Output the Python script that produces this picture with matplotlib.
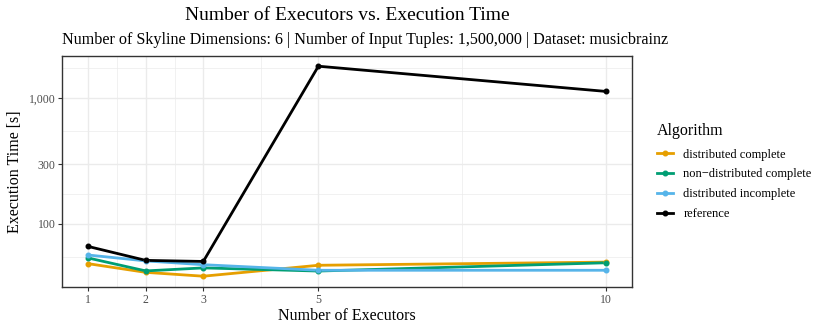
import numpy as np
import matplotlib
matplotlib.use("Agg")
import matplotlib.pyplot as plt
from matplotlib.ticker import FixedLocator, FuncFormatter, NullFormatter

plt.rcParams['font.family'] = ['Liberation Serif', 'DejaVu Serif']

executors = [1, 2, 3, 5, 10]
algorithms = ["distributed complete", "non\u2212distributed complete",
              "distributed incomplete", "reference"]
dist_complete = [48.2, 41.1, 38.3, 46.8, 49.6]
nondist_complete = [53.5, 42.2, 44.6, 42.1, 49.0]
dist_incomplete = [56.5, 50.7, 47.3, 42.7, 42.7]
reference = [66.1, 51.2, 50.2, 1805, 1136]
series = [dist_complete, nondist_complete, dist_incomplete, reference]
colors = ["#E69F00", "#009E73", "#56B4E9", "#000000"]

y_major = [100, 300, 1000]
y_minor = [54.8, 173, 548, 1733]
x_major = [1, 2, 3, 5, 10]
x_minor = [1.5, 2.5, 4, 7.5]

fig = plt.figure(figsize=(8.3, 3.32), dpi=100)
ax = fig.add_axes([62.3/830, 1-286.7/332, (632-62.3)/830, (286.7-55.7)/332])

for vals, c in zip(series, colors):
    ax.plot(executors, vals, color=c, lw=2.0, solid_capstyle='butt', zorder=3)
for vals, c in zip(series, colors):
    ax.plot(executors, vals, color=c, lw=0, marker='o', ms=3.3, zorder=4)

ax.set_yscale('log')
allv = np.concatenate([np.array(s) for s in series])
lo, hi = np.log10(allv.min()), np.log10(allv.max())
pad = 0.05*(hi-lo)
ax.set_ylim(10**(lo-pad), 10**(hi+pad))
ax.set_xlim(1-0.45, 10+0.45)

ax.yaxis.set_major_locator(FixedLocator(y_major))
ax.yaxis.set_minor_locator(FixedLocator(y_minor))
ax.yaxis.set_major_formatter(FuncFormatter(lambda v, p: f"{int(round(v)):,}"))
ax.yaxis.set_minor_formatter(NullFormatter())
ax.xaxis.set_major_locator(FixedLocator(x_major))
ax.xaxis.set_minor_locator(FixedLocator(x_minor))

ax.grid(True, which='major', color='#EBEBEB', lw=1.0, zorder=0)
ax.grid(True, which='minor', color='#EBEBEB', lw=0.5, zorder=0)
ax.set_axisbelow(True)
for s in ax.spines.values():
    s.set_color('#333333')
    s.set_linewidth(1.0)
ax.tick_params(which='major', length=3, width=0.8, color='#333333',
               labelsize=8.5, labelcolor='#4D4D4D', pad=2)
ax.tick_params(which='minor', length=0)

ax.set_xlabel("Number of Executors", fontsize=11.5, labelpad=2)
ax.set_ylabel("Execution Time [s]", fontsize=11.5, labelpad=4)

fig.text((62.3+632)/2/830, 1-16/332, "Number of Executors vs. Execution Time",
         ha='center', va='center', fontsize=14)
fig.text(62/830, 1-40/332,
         "Number of Skyline Dimensions: 6 | Number of Input Tuples: 1,500,000 | Dataset: musicbrainz",
         ha='left', va='center', fontsize=11.6)

handles = [plt.Line2D([], [], color=c, lw=2.0, marker='o', ms=3.3) for c in colors]
leg = fig.legend(handles, algorithms, title="Algorithm", loc='upper left',
                 bbox_to_anchor=(657/830, 1-123/332), frameon=False,
                 fontsize=9, title_fontsize=11.5, handlelength=1.3,
                 handletextpad=0.8, labelspacing=0.62, borderaxespad=0,
                 borderpad=0)
leg._legend_box.align = "left"
leg._legend_box.sep = 7

fig.savefig("out.png", dpi=100)
